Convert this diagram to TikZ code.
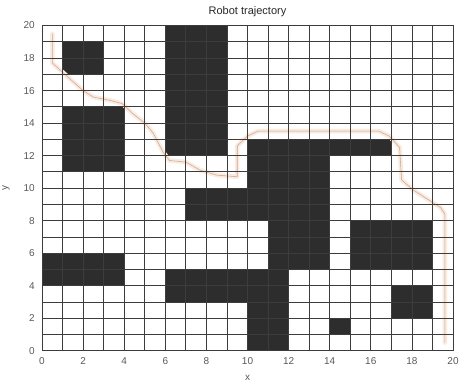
\documentclass[tikz,border=0pt]{standalone}
\usepackage{fontspec}
\setmainfont{Liberation Sans}
\begin{document}
\begin{tikzpicture}[x=20.55pt,y=16.26pt,
  obst/.style={fill={rgb,255:red,45;green,45;blue,45},draw=none},
  gridline/.style={draw={rgb,255:red,60;green,60;blue,60},line width=0.75pt},
  ticklab/.style={font=\fontsize{10}{11}\selectfont,text={rgb,255:red,90;green,90;blue,90}},
  halo/.style={draw={rgb,255:red,251;green,234;blue,222},line width=4.5pt,line join=round,line cap=round},
  traj/.style={draw={rgb,255:red,200;green,168;blue,155},line width=0.55pt,line join=round}]
\useasboundingbox[fill=white] (-2.044,-2.478) rectangle (20.584,21.57);
% obstacles
\fill[obst] (1,17) rectangle (3,19);
\fill[obst] (1,11) rectangle (4,15);
\fill[obst] (6,12) rectangle (9,20);
\fill[obst] (10,12) rectangle (17,13);
\fill[obst] (10,8) rectangle (14,12);
\fill[obst] (7,8) rectangle (10,10);
\fill[obst] (11,5) rectangle (14,8);
\fill[obst] (6,3) rectangle (12,5);
\fill[obst] (10,0) rectangle (12,3);
\fill[obst] (0,4) rectangle (4,6);
\fill[obst] (15,5) rectangle (19,8);
\fill[obst] (17,2) rectangle (19,4);
\fill[obst] (14,1) rectangle (15,2);
% trajectory
\coordinate (start) at (0.5,19.5);
\coordinate (goal) at (19.6,0.5);
\foreach \st in {halo,traj}{
\draw[\st] (start) -- (0.5,17.7) -- (1.2,16.9) -- (2,16) -- (2.5,15.6) -- (3.3,15.4) -- (3.9,15.2)
  -- (4.4,14.6) -- (5,14) -- (5.4,13.4) -- (5.9,12.2) -- (6.2,11.7) -- (7,11.6) -- (7.7,11.1)
  -- (8.5,10.8) -- (9.5,10.7) -- (9.5,12.6) -- (10,13.2) -- (10.5,13.5) -- (16.4,13.5)
  -- (16.9,13.2) -- (17.4,12.5) -- (17.5,10.5) -- (18.05,9.9) -- (19.4,8.8) -- (19.6,8.4) -- (goal);
}
% grid
\foreach \i in {0,...,20}{
  \draw[gridline] (\i,0) -- (\i,20);
  \draw[gridline] (0,\i) -- (20,\i);
}
\draw[draw={rgb,255:red,60;green,60;blue,60},line width=0.8pt] (0,0) rectangle (20,20);
% tick labels
\foreach \i in {0,2,...,20}{
  \node[ticklab,anchor=north] (xt\i) at (\i,-0.22) {\i};
  \node[ticklab,anchor=east] (yt\i) at (-0.18,\i) {\i};
}
\node[ticklab,anchor=north] (xl) at (10,-1.3) {x};
\node[ticklab,rotate=90,anchor=south] (yl) at (-1.4,10) {y};
\node[font=\fontsize{11}{13}\selectfont,text={rgb,255:red,40;green,40;blue,40}] (title) at (10,20.85) {Robot trajectory};
\end{tikzpicture}
\end{document}
